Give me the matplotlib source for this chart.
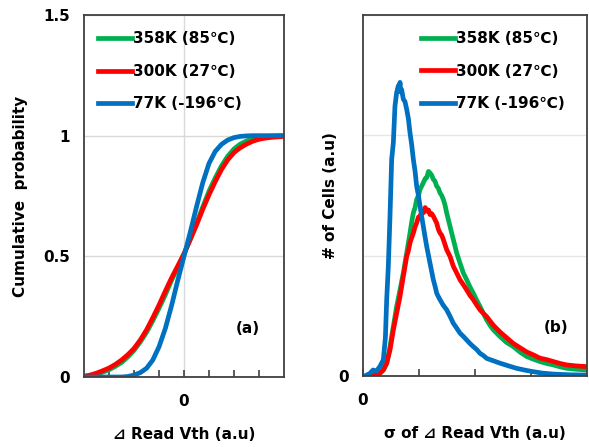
import numpy as np
import matplotlib
matplotlib.use("Agg")
import matplotlib.pyplot as plt

plt.rcParams['font.family'] = ['DejaVu Sans', 'Noto Sans CJK JP']
plt.rcParams['font.weight'] = 'bold'

# datos panel (a): distribución acumulada
x_cdf = np.arange(-4, 4.01, 0.25)
y_358 = [0.002, 0.006, 0.012, 0.02, 0.03, 0.044, 0.06, 0.083, 0.11, 0.145, 0.185,
         0.233, 0.285, 0.34, 0.40, 0.455, 0.51, 0.57, 0.635, 0.705, 0.77, 0.825,
         0.875, 0.915, 0.945, 0.965, 0.978, 0.987, 0.993, 0.996, 0.998, 0.999, 1.0]
y_300 = [0.003, 0.008, 0.016, 0.026, 0.037, 0.052, 0.07, 0.092, 0.118, 0.153, 0.195,
         0.245, 0.298, 0.355, 0.41, 0.46, 0.51, 0.57, 0.63, 0.695, 0.755, 0.81,
         0.86, 0.9, 0.93, 0.95, 0.965, 0.977, 0.985, 0.99, 0.993, 0.995, 0.997]
y_77 = [0.0, 0.0, 0.0, 0.0, 0.0, 0.0, 0.0, 0.002, 0.008, 0.018, 0.036,
        0.07, 0.125, 0.2, 0.295, 0.4, 0.5, 0.6, 0.705, 0.805, 0.885, 0.935,
        0.964, 0.982, 0.992, 0.997, 0.999, 1.0, 1.0, 1.0, 1.0, 1.0, 1.0]

# datos panel (b): histograma de sigma
xb_77 = [0.066, 0.12, 0.18, 0.24, 0.30, 0.363, 0.40, 0.423, 0.452, 0.482, 0.512, 0.542,
         0.571, 0.601, 0.631, 0.645, 0.661, 0.675, 0.69, 0.72, 0.75, 0.78, 0.81, 0.839,
         0.87, 0.899, 0.93, 0.958, 0.99, 1.018, 1.05, 1.077, 1.11, 1.137, 1.17, 1.196,
         1.23, 1.256, 1.29, 1.315, 1.345, 1.375, 1.43, 1.494, 1.55, 1.613, 1.67, 1.732,
         1.79, 1.85, 1.91, 1.97, 2.03, 2.09, 2.15, 2.21, 2.33, 2.45, 2.6, 2.74, 2.9,
         3.04, 3.2, 3.40, 3.7, 3.99]
yb_77 = [0.004, 0.01, 0.025, 0.02, 0.039, 0.067, 0.16, 0.317, 0.455, 0.664, 0.90, 0.97,
         1.122, 1.178, 1.206, 1.19, 1.22, 1.18, 1.19, 1.15, 1.14, 1.108, 1.07, 1.011,
         0.96, 0.90, 0.85, 0.789, 0.75, 0.706, 0.66, 0.622, 0.575, 0.539, 0.50, 0.469,
         0.43, 0.40, 0.37, 0.345, 0.33, 0.317, 0.295, 0.275, 0.25, 0.219, 0.2, 0.178,
         0.165, 0.15, 0.135, 0.122, 0.11, 0.094, 0.085, 0.073, 0.063, 0.053, 0.042,
         0.032, 0.024, 0.018, 0.012, 0.008, 0.005, 0.004]

xb_358 = [0.244, 0.30, 0.363, 0.423, 0.482, 0.542, 0.601, 0.661, 0.72, 0.78, 0.839, 0.87,
          0.899, 0.93, 0.958, 0.99, 1.018, 1.05, 1.077, 1.11, 1.137, 1.17, 1.196, 1.225,
          1.256, 1.285, 1.315, 1.345, 1.375, 1.405, 1.435, 1.465, 1.494, 1.554, 1.613,
          1.673, 1.732, 1.792, 1.851, 1.91, 1.97, 2.03, 2.089, 2.15, 2.208, 2.27, 2.327,
          2.446, 2.56, 2.685, 2.8, 2.923, 3.04, 3.161, 3.28, 3.399, 3.52, 3.637, 3.8,
          3.994]
yb_358 = [0.004, 0.01, 0.025, 0.053, 0.122, 0.206, 0.289, 0.358, 0.428, 0.511, 0.594, 0.64,
          0.678, 0.70, 0.733, 0.75, 0.775, 0.79, 0.803, 0.82, 0.824, 0.85, 0.844, 0.835,
          0.817, 0.81, 0.789, 0.78, 0.761, 0.75, 0.733, 0.71, 0.678, 0.622, 0.567,
          0.511, 0.469, 0.428, 0.40, 0.37, 0.344, 0.315, 0.289, 0.26, 0.233, 0.21, 0.192,
          0.164, 0.14, 0.122, 0.10, 0.081, 0.07, 0.060, 0.052, 0.046, 0.038, 0.032,
          0.028, 0.025]

xb_300 = [0.185, 0.30, 0.363, 0.423, 0.482, 0.542, 0.601, 0.661, 0.72, 0.78, 0.81, 0.839,
          0.87, 0.899, 0.93, 0.958, 0.99, 1.018, 1.05, 1.077, 1.11, 1.137, 1.17, 1.196,
          1.225, 1.256, 1.285, 1.315, 1.345, 1.375, 1.405, 1.435, 1.494, 1.554, 1.613,
          1.673, 1.732, 1.79, 1.851, 1.91, 1.97, 2.03, 2.089, 2.15, 2.208, 2.27, 2.327,
          2.446, 2.56, 2.685, 2.8, 2.923, 3.04, 3.161, 3.28, 3.399, 3.52, 3.637, 3.8,
          3.994]
yb_300 = [0.004, 0.012, 0.025, 0.053, 0.108, 0.192, 0.261, 0.331, 0.414, 0.497, 0.52, 0.553,
          0.575, 0.594, 0.62, 0.636, 0.66, 0.664, 0.68, 0.678, 0.70, 0.685, 0.69, 0.671,
          0.675, 0.664, 0.65, 0.636, 0.61, 0.594, 0.585, 0.567, 0.525, 0.497,
          0.456, 0.428, 0.40, 0.38, 0.358, 0.335, 0.317, 0.295, 0.275, 0.26, 0.247, 0.228,
          0.211, 0.183, 0.16, 0.135, 0.118, 0.10, 0.088, 0.074, 0.068, 0.060, 0.052,
          0.046, 0.042, 0.039]

etiquetas = ['358K (85℃)', '300K (27℃)', '77K (-196℃)']
colores = ['#00B050', '#FF0000', '#0070C0']

fig = plt.figure(figsize=(5.89, 4.47), dpi=100)
ax1 = fig.add_axes([84/589, 70/447, 200/589, 362/447])
ax2 = fig.add_axes([363/589, 71/447, 224/589, 361/447])

for y, c, lab in zip([y_358, y_300, y_77], colores, etiquetas):
    ax1.plot(x_cdf, y, color=c, lw=3.4, label=lab)

for x, y, c, lab in zip([xb_358, xb_300, xb_77], [yb_358, yb_300, yb_77], colores, etiquetas):
    ax2.plot(x, y, color=c, lw=3.4, label=lab)

ax1.set_xlim(-4, 4)
ax1.set_ylim(0, 1.5)
ax1.set_yticks([0, 0.5, 1, 1.5])
ax1.set_yticklabels(['0', '0.5', '1', '1.5'])
ax1.set_xticks([0])
ax1.set_xticklabels(['0'])
ax1.set_xticks([-3, -2, -1, 1, 2, 3], minor=True)
ax1.grid(True, which='major', color='#d9d9d9', lw=1)
ax1.set_ylabel('Cumulative  probability', fontsize=11, fontweight='bold')
ax1.yaxis.set_label_coords(-0.28, 0.5)
ax1.set_xlabel('⊿ Read Vth (a.u)', fontsize=11, fontweight='bold', labelpad=13)
ax1.text(0.82, 0.135, '(a)', transform=ax1.transAxes, fontsize=11, fontweight='bold',
         ha='center', va='center')

ax2.set_xlim(0, 4)
ax2.set_ylim(0, 1.5)
ax2.set_yticks([0, 0.5, 1, 1.5])
ax2.set_yticklabels(['0', '', '', ''])
ax2.set_xticks([0, 1, 2, 3])
ax2.set_xticklabels(['0', '', '', ''])
ax2.grid(True, axis='y', color='#e6e6e6', lw=1)
ax2.set_ylabel('# of Cells (a.u)', fontsize=11, fontweight='bold')
ax2.yaxis.set_label_coords(-0.112, 0.5)
ax2.set_xlabel('σ of ⊿ Read Vth (a.u)', fontsize=11, fontweight='bold', labelpad=13)
ax2.text(0.86, 0.135, '(b)', transform=ax2.transAxes, fontsize=11, fontweight='bold',
         ha='center', va='center')

for ax in (ax1, ax2):
    ax.set_axisbelow(True)
    for s in ax.spines.values():
        s.set_color('#404040')
        s.set_linewidth(1.3)
    ax.tick_params(axis='x', which='both', direction='in', length=5, width=1.2,
                   color='#404040', labelsize=11, pad=12)
    ax.tick_params(axis='y', length=0, labelsize=11, pad=10)

ax1.legend(loc='upper left', bbox_to_anchor=(0.07, 0.955), frameon=False, fontsize=11,
           handlelength=2.2, handletextpad=0.1, labelspacing=1.15, borderpad=0,
           borderaxespad=0)
ax2.legend(loc='upper left', bbox_to_anchor=(0.259, 0.955), frameon=False, fontsize=11,
           handlelength=2.2, handletextpad=0.1, labelspacing=1.15, borderpad=0,
           borderaxespad=0)

fig.savefig('out.png', dpi=100)
